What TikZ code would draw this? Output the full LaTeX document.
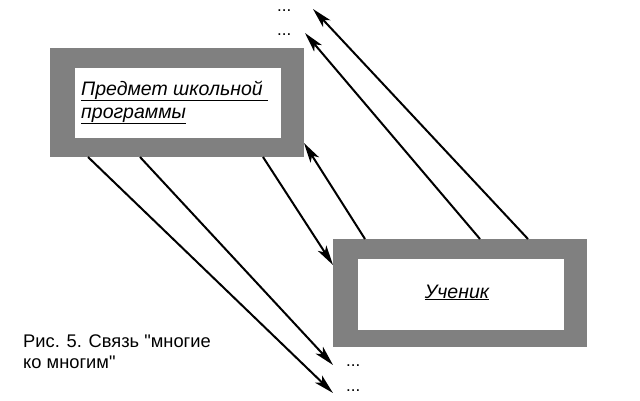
\documentclass[tikz,border=0pt]{standalone}
\usepackage{fontspec}
\setmainfont{Liberation Sans}
\newfontfamily\capfont{Liberation Sans}
\usetikzlibrary{arrows.meta}
\definecolor{boxgray}{HTML}{808080}
\begin{document}
\begin{tikzpicture}[x=1pt,y=-1pt,
  outerbox/.style={fill=boxgray,draw=none,inner sep=0pt,outer sep=0pt},
  innerbox/.style={fill=white,draw=none,inner sep=0pt,outer sep=0pt},
  boxtext/.style={inner sep=0pt,font=\fontsize{19.5}{23}\selectfont\itshape},
  dots/.style={inner sep=0pt,text height=3pt,text depth=0pt,font=\fontsize{17}{18}\selectfont,anchor=base west},
  conn/.style={line width=2pt,-{Stealth[length=20pt,width=10pt,inset=5pt]}},
  caption/.style={inner sep=0pt,anchor=base west,font=\capfont\fontsize{18.3}{21}\selectfont}]
\useasboundingbox (0,0) rectangle (640,400);
% top box
\node[outerbox,minimum width=254pt,minimum height=109pt] (subj) at (177,102.5) {};
\node[innerbox,minimum width=206pt,minimum height=70pt] (subjin) at (178,103) {};
\node[boxtext,anchor=base west] (subjt1) at (81,95) {\underline{Предмет школьной }};
\node[boxtext,anchor=base west] (subjt2) at (81,118) {\underline{программы}};
% bottom box
\node[outerbox,minimum width=254pt,minimum height=108pt] (pupil) at (460,293) {};
\node[innerbox,minimum width=206pt,minimum height=71pt] (pupilin) at (461,294.5) {};
\node[boxtext,anchor=base] (pupilt) at (457,298) {\underline{Ученик}};
% dots
\node[dots] (d1) at (277,11) {...};
\node[dots] (d2) at (277,35) {...};
\node[dots] (d3) at (346,366) {...};
\node[dots] (d4) at (346,391) {...};
% caption
\node[caption] (cap1) at (23,347) {Рис. 5. Связь "многие};
\node[caption] (cap2) at (23,368) {ко многим"};
% coordinates
\coordinate (s1) at (88,157);
\coordinate (s2) at (140,157);
\coordinate (s3) at (263,157);
\coordinate (e1) at (333,393);
\coordinate (e2) at (333,365);
\coordinate (e3) at (333,265);
\coordinate (p1) at (365,239);
\coordinate (p2) at (480,239);
\coordinate (p3) at (528,239);
\coordinate (t1) at (304,143);
\coordinate (t2) at (305,33);
\coordinate (t3) at (313,9);
\draw[conn] (s1) -- (e1);
\draw[conn] (s2) -- (e2);
\draw[conn] (s3) -- (e3);
\draw[conn] (p1) -- (t1);
\draw[conn] (p2) -- (t2);
\draw[conn] (p3) -- (t3);
\end{tikzpicture}
\end{document}
